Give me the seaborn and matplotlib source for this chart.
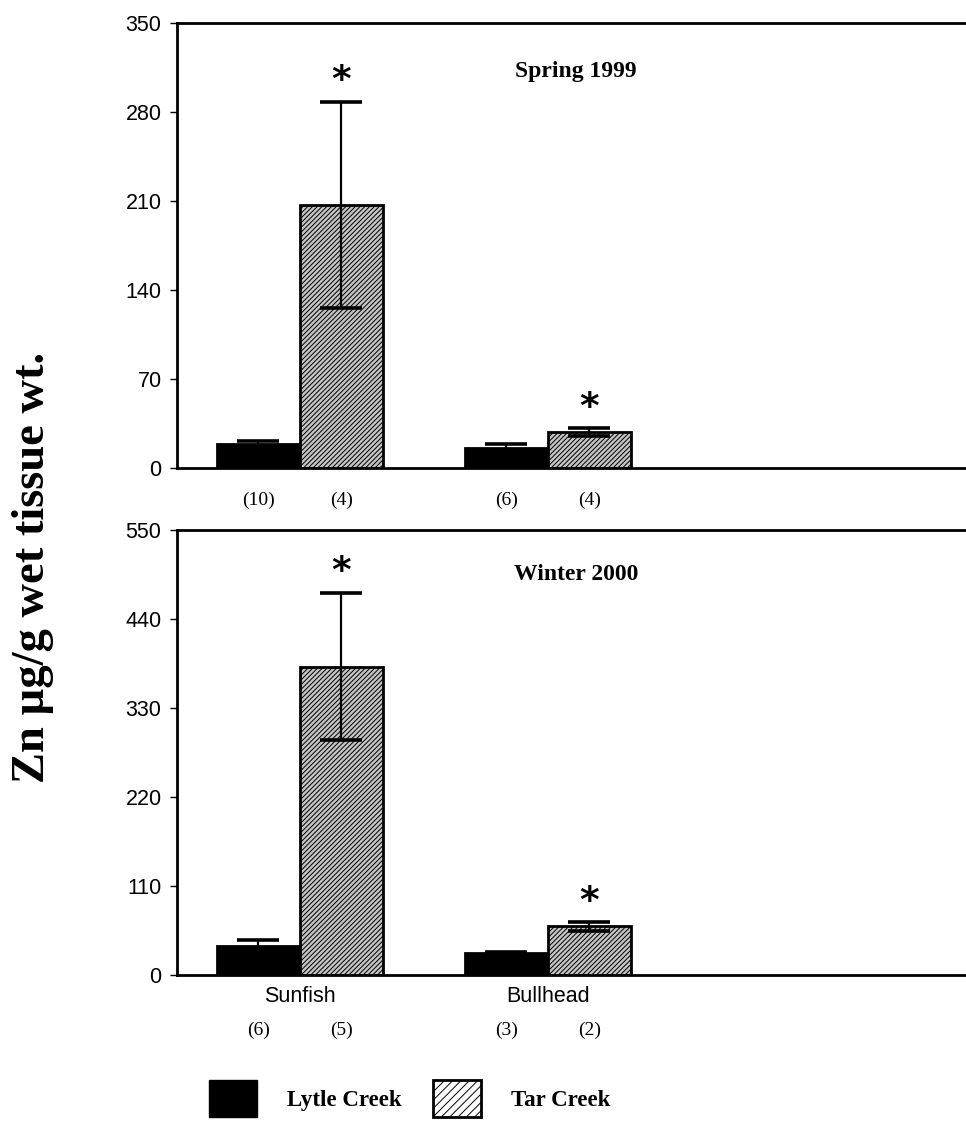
import matplotlib
matplotlib.use("Agg")
import matplotlib.pyplot as plt
from matplotlib.patches import Patch
import pandas as pd
import seaborn as sns

sns.set_style("ticks", {"axes.edgecolor": "black", "text.color": "black",
                        "xtick.color": "black", "ytick.color": "black"})
plt.rcParams["font.family"] = ["Liberation Sans", "DejaVu Sans"]
plt.rcParams["hatch.linewidth"] = 0.7

fish = ["Sunfish", "Sunfish", "Bullhead", "Bullhead"]
creek = ["Lytle Creek", "Tar Creek", "Lytle Creek", "Tar Creek"]

# Spring 1999
spring_mean = [19, 207, 16, 28]
spring_se = [2, 81, 2.5, 3]
spring_n = ["(10)", "(4)", "(6)", "(4)"]
spring_star = [False, True, False, True]

# Winter 2000
winter_mean = [36, 381, 27, 60]
winter_se = [7, 91, 2, 5]
winter_n = ["(6)", "(5)", "(3)", "(2)"]
winter_star = [False, True, False, True]

serif = ["Liberation Serif", "DejaVu Serif"]
palette = {"Lytle Creek": "black", "Tar Creek": "#c4c4c4"}

fig = plt.figure(figsize=(9.66, 11.22), dpi=100)
ax_top = fig.add_axes([0.183, 0.583, 0.82, 0.3966])
ax_bot = fig.add_axes([0.183, 0.131, 0.82, 0.3966])


def panel(ax, mean, se, ns, stars, title, title_y, ymax, step, n_y):
    df = pd.DataFrame({"fish": fish, "creek": creek, "zn": mean})
    sns.barplot(data=df, x="fish", y="zn", hue="creek", palette=palette,
                width=0.67, errorbar=None, edgecolor="black", linewidth=2,
                legend=False, ax=ax, zorder=2)
    for bar in ax.containers[1]:
        bar.set_hatch("///////")
    centres = {}
    for cont, cname in zip(ax.containers, ["Lytle Creek", "Tar Creek"]):
        for bar, fname in zip(cont, ["Sunfish", "Bullhead"]):
            centres[(fname, cname)] = bar.get_x() + bar.get_width() / 2
    xs = [centres[(f, c)] for f, c in zip(fish, creek)]
    ax.errorbar(xs, mean, yerr=se, fmt="none", ecolor="black",
                elinewidth=1.6, capsize=15, capthick=2.6, zorder=3)
    for x, m, s, star, n in zip(xs, mean, se, stars, ns):
        if star:
            ax.annotate("*", (x, m + s), xytext=(0, 2), textcoords="offset points",
                        ha="center", va="bottom", fontsize=27, fontweight="bold",
                        family=["DejaVu Sans"])
        ax.text(x, n_y, n, transform=ax.get_xaxis_transform(), ha="center",
                va="center", fontsize=14, family=serif)
    ax.text(0.504, title_y, title, transform=ax.transAxes,
            ha="center", va="center", fontsize=17, fontweight="bold", family=serif)
    ax.set_ylim(0, ymax)
    ax.set_yticks(range(0, ymax + 1, step))
    ax.set_xlim(-0.496, 2.698)
    ax.set_xlabel("")
    ax.set_ylabel("")
    ax.spines["right"].set_visible(False)
    for s in ["left", "top", "bottom"]:
        ax.spines[s].set_linewidth(2)
    ax.tick_params(axis="y", labelsize=15.5, length=5, width=1, pad=6)
    ax.tick_params(axis="x", length=0, labelsize=15.5, pad=8)


panel(ax_top, spring_mean, spring_se, spring_n, spring_star, "Spring 1999", 0.89,
      350, 70, -0.074)
ax_top.set_xticklabels([])
panel(ax_bot, winter_mean, winter_se, winter_n, winter_star, "Winter 2000", 0.899,
      550, 110, -0.124)

fig.text(0.034, 0.494, "Zn \u00b5g/g wet tissue wt.", rotation=90, ha="center",
         va="center", fontsize=33.5, fontweight="bold", family=serif)

handles = [Patch(facecolor="black", edgecolor="black"),
           Patch(facecolor="white", edgecolor="black", hatch="////", linewidth=2)]
fig.legend(handles, ["Lytle Creek", "Tar Creek"], ncol=2, frameon=False,
           loc="center left", bbox_to_anchor=(0.216, 0.021),
           prop={"family": serif, "weight": "bold", "size": 16.5},
           handlelength=2.1, handleheight=2.1, handletextpad=1.3,
           columnspacing=1.4, borderpad=0, borderaxespad=0)

fig.savefig("out.png", dpi=100)
